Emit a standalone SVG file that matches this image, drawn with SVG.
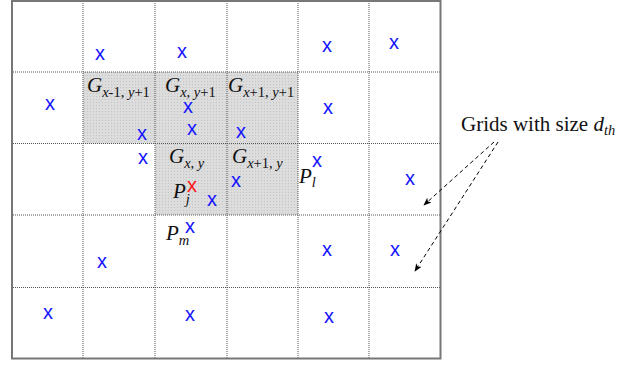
<svg xmlns="http://www.w3.org/2000/svg" width="620" height="365" viewBox="0 0 620 365">
<style>
.grid{stroke:#555;stroke-width:1;stroke-dasharray:1,1;fill:none}
.mk{font-family:"Liberation Sans",Arial,sans-serif;font-size:20px;fill:#1515ff;text-anchor:middle}
.red{fill:#ff1515}
.lab{font-family:"Liberation Serif","Times New Roman",serif;font-size:21px;fill:#111;font-style:italic}
.sub{font-size:14.5px}
.rm{font-style:normal}
.conn{stroke:#000;stroke-width:1;stroke-dasharray:4,3;fill:none}
</style>
<defs>
<pattern id="dots" width="3" height="3" patternUnits="userSpaceOnUse">
<rect width="3" height="3" fill="#dcdcdc"/>
<rect width="1" height="1" fill="#c4c4c4"/>
</pattern>
<marker id="ah" viewBox="0 0 10 10" refX="9" refY="5" markerWidth="8" markerHeight="8" orient="auto" markerUnits="userSpaceOnUse">
<path d="M0,1 L10,5 L0,9 L2.5,5 Z" fill="#000"/>
</marker>
</defs>
<rect width="620" height="365" fill="#fff"/>
<g id="shade">
<path d="M83,72 H298 V215 H155 V143.5 H83 Z" fill="url(#dots)"/>
</g>
<g id="grid">
<line class="grid" x1="83" y1="1" x2="83" y2="358"/>
<line class="grid" x1="155" y1="1" x2="155" y2="358"/>
<line class="grid" x1="227" y1="1" x2="227" y2="358"/>
<line class="grid" x1="298" y1="1" x2="298" y2="358"/>
<line class="grid" x1="369" y1="1" x2="369" y2="358"/>
<line class="grid" x1="11" y1="72" x2="440" y2="72"/>
<line class="grid" x1="11" y1="143.5" x2="440" y2="143.5"/>
<line class="grid" x1="11" y1="215" x2="440" y2="215"/>
<line class="grid" x1="11" y1="287.5" x2="440" y2="287.5"/>
<rect x="12" y="1" width="428.5" height="357.5" fill="none" stroke="#777" stroke-width="2"/>
</g>
<g id="points">
<text class="mk" x="100" y="60">x</text>
<text class="mk" x="182" y="58">x</text>
<text class="mk" x="327" y="52">x</text>
<text class="mk" x="394" y="49">x</text>
<text class="mk" x="50" y="110">x</text>
<text class="mk" x="188" y="113">x</text>
<text class="mk" x="192" y="135">x</text>
<text class="mk" x="142" y="140">x</text>
<text class="mk" x="241" y="138">x</text>
<text class="mk" x="328" y="114">x</text>
<text class="mk" x="143" y="164">x</text>
<text class="mk" x="317" y="167">x</text>
<text class="mk" x="236" y="187">x</text>
<text class="mk" x="212" y="206">x</text>
<text class="mk" x="410" y="185">x</text>
<text class="mk red" x="192" y="192">x</text>
<text class="mk" x="190" y="233">x</text>
<text class="mk" x="327" y="256">x</text>
<text class="mk" x="395" y="256">x</text>
<text class="mk" x="102" y="268">x</text>
<text class="mk" x="48" y="319">x</text>
<text class="mk" x="190" y="321">x</text>
<text class="mk" x="329" y="323">x</text>
</g>
<g id="G_xm1_yp1"><text class="lab" x="87" y="92">G<tspan class="sub" dy="5">x<tspan class="rm">-1, </tspan>y<tspan class="rm">+1</tspan></tspan></text></g>
<g id="G_x_yp1"><text class="lab" x="165" y="92">G<tspan class="sub" dy="5">x<tspan class="rm">, </tspan>y<tspan class="rm">+1</tspan></tspan></text></g>
<g id="G_xp1_yp1"><text class="lab" x="228" y="92">G<tspan class="sub" dy="5">x<tspan class="rm">+1, </tspan>y<tspan class="rm">+1</tspan></tspan></text></g>
<g id="G_x_y"><text class="lab" x="169" y="163">G<tspan class="sub" dy="5">x<tspan class="rm">, </tspan>y</tspan></text></g>
<g id="G_xp1_y"><text class="lab" x="232" y="163">G<tspan class="sub" dy="5">x<tspan class="rm">+1, </tspan>y</tspan></text></g>
<g id="Pj"><text class="lab" x="173" y="198">P<tspan class="sub" dy="6">j</tspan></text></g>
<g id="Pm"><text class="lab" x="166" y="240">P<tspan class="sub" dy="5">m</tspan></text></g>
<g id="Pl"><text class="lab" x="299" y="183">P<tspan class="sub" dy="4">l</tspan></text></g>
<g id="caption"><text class="lab rm" x="461" y="131" style="font-style:normal">Grids with size <tspan style="font-style:italic">d<tspan class="sub" dy="4">th</tspan></tspan></text></g>
<g id="connectors">
<line class="conn" x1="494" y1="142" x2="424" y2="205" marker-end="url(#ah)"/>
<line class="conn" x1="498" y1="142" x2="415" y2="271" marker-end="url(#ah)"/>
</g>
</svg>
